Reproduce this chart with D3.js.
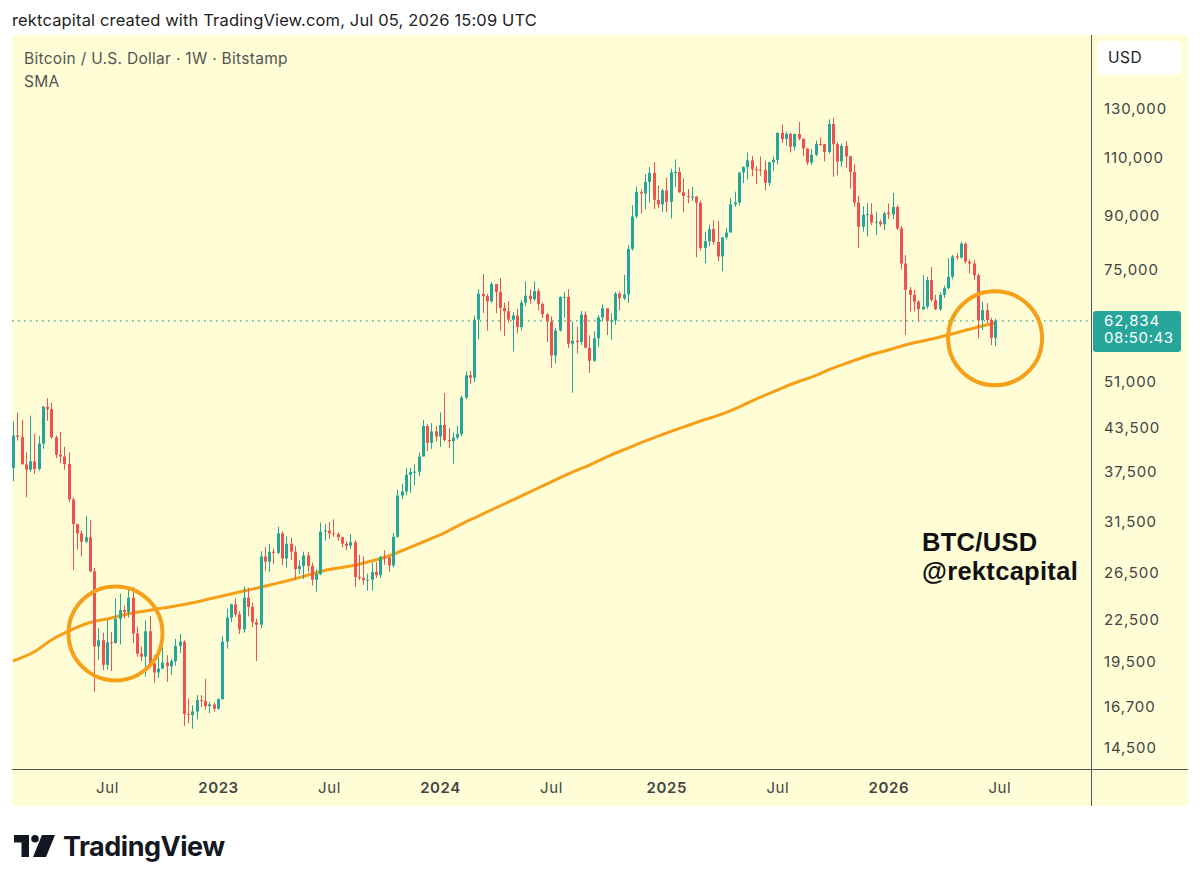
<!DOCTYPE html>
<html>
<head>
<meta charset="utf-8">
<script src="https://cdn.jsdelivr.net/npm/d3@7"></script>
<style>
  html, body { margin: 0; padding: 0; background: #fff; }
  svg { display: block; font-family: Inter, "Noto Sans", sans-serif; }
</style>
</head>
<body>
<div id="chart"></div>
<script>
// BTC/USD weekly candles (Bitstamp), [open, high, low, close]
// first bar is the week of 2022-01-31
const startWeek = '2022-01-31';

const candles2022 = [
  [37900, 44500, 36250, 42400], [42400, 45850, 41650, 42200], [42200, 44750, 39450, 38400],
  [38400, 40000, 34300, 37700], [37700, 45400, 37450, 38800], [38800, 42600, 37150, 37800],
  [37800, 42350, 37600, 41250], [41250, 46900, 40500, 46800], [46800, 48200, 44600, 46400],
  [46400, 47500, 41900, 42150], [42150, 42400, 39200, 39700], [39700, 42950, 38550, 39450],
  [39450, 40800, 37700, 38450], [38450, 40000, 33700, 34050], [34050, 34300, 26700, 31300],
  [31300, 31300, 28650, 30300], [30300, 30600, 28000, 29450], [29450, 32200, 29300, 29900],
  [29900, 31700, 26500, 26600], [26600, 26900, 17600, 20550], [20550, 21900, 19650, 21000],
  [21000, 21550, 18950, 19300], [19300, 22500, 19000, 20850], [20850, 21600, 18900, 20800],
  [20800, 24250, 20750, 22600], [22600, 24650, 20700, 23300], [23300, 23650, 22650, 23150],
  [23150, 25200, 22700, 24300], [24300, 25200, 20800, 21500], [21500, 22000, 19850, 20050],
  [20050, 20550, 19550, 19850], [19850, 22500, 18550, 21650], [21650, 22800, 19350, 19400],
  [19400, 19950, 18150, 18800], [18800, 20400, 18450, 19050], [19050, 20500, 19050, 19450],
  [19450, 19950, 18200, 19200], [19200, 19700, 18650, 19550], [19550, 21100, 19250, 20600],
  [20600, 21450, 20100, 20900], [20900, 21000, 15650, 16300], [16300, 17200, 15800, 16250],
  [16250, 16800, 15500, 16450], [16450, 17400, 16000, 17100], [17100, 17400, 16700, 17050],
  [17050, 18400, 16550, 16750], [16750, 17000, 16350, 16850], [16850, 16950, 16450, 16600]
];

const candles2023 = [
  [16600, 17200, 16550, 17150], [17150, 21300, 17150, 20900], [20900, 23400, 20400, 22700],
  [22700, 23800, 22350, 23750], [23750, 24250, 22750, 22950], [22950, 23200, 21450, 21800],
  [21800, 25250, 21550, 24300], [24300, 25150, 22800, 23550], [23550, 23900, 21950, 22350],
  [22350, 22600, 19550, 22150], [22150, 28500, 21900, 28000], [28000, 28900, 26650, 27500],
  [27500, 29200, 26550, 28450], [28450, 28750, 27250, 28350], [28350, 31000, 28200, 30300],
  [30300, 30500, 27150, 27800], [27800, 30000, 26950, 29250], [29250, 29850, 27650, 28450],
  [28450, 29000, 25850, 26800], [26800, 27650, 26350, 27100], [27100, 28450, 25900, 28100],
  [28100, 28450, 26550, 27100], [27100, 27400, 25350, 25850], [25850, 26800, 24800, 26350],
  [26350, 31450, 26250, 30500], [30500, 31300, 29550, 30600], [30600, 31500, 29750, 30300],
  [30300, 31800, 29950, 30250], [30250, 30400, 29550, 29900], [29900, 29950, 28900, 29250],
  [29250, 29500, 28600, 29050], [29050, 30250, 28750, 29400], [29400, 29650, 25200, 26100],
  [26100, 28150, 25800, 26000], [26000, 28000, 25400, 25800], [25800, 26400, 24900, 25850],
  [25850, 27400, 24900, 26550], [26550, 27450, 26000, 26250], [26250, 28050, 26000, 27950],
  [27950, 28600, 27200, 27900], [27900, 28000, 26550, 27150], [27150, 30350, 26950, 29950],
  [29950, 35200, 29850, 34500], [34500, 35950, 34100, 35000], [35000, 37950, 34550, 37050],
  [37050, 37950, 34800, 37400], [37400, 38400, 35700, 37450], [37450, 40000, 36850, 39450],
  [39450, 44700, 39450, 43800], [43800, 44050, 40200, 41350], [41350, 44250, 40500, 43000],
  [43000, 43800, 41550, 42250]
];

const candles2024 = [
  [42250, 45900, 40750, 43950], [43950, 49050, 41500, 41750], [41750, 43550, 40600, 41600],
  [41600, 42850, 38500, 42100], [42100, 43850, 41850, 42600], [42600, 48600, 42300, 48300],
  [48300, 52800, 48000, 52150], [52150, 52950, 50600, 51700], [51700, 64000, 50900, 63100],
  [63100, 70000, 59000, 68950], [68950, 73800, 64550, 68400], [68400, 68950, 60750, 67200],
  [67200, 71750, 66850, 71300], [71300, 71300, 64500, 69400], [69400, 72800, 60800, 65700],
  [65700, 66900, 59650, 64950], [64950, 67200, 62450, 63100], [63100, 64700, 56550, 64000],
  [64000, 65500, 60200, 61500], [61500, 67500, 60750, 66900], [66900, 71950, 66100, 68500],
  [68500, 70000, 66650, 67700], [67700, 71950, 67250, 69600], [69600, 70200, 65100, 66600],
  [66600, 66950, 63400, 64300], [64300, 64450, 58450, 62700], [62700, 63800, 53500, 55800],
  [55800, 61350, 54300, 60800], [60800, 68350, 60600, 68200], [68200, 69350, 63500, 68250],
  [68250, 70050, 57250, 58100], [58100, 62700, 49100, 58700], [58700, 61600, 56200, 58450],
  [58450, 65000, 57850, 64200], [64200, 64950, 57250, 57300], [57300, 59800, 52550, 54800],
  [54800, 60600, 54600, 59200], [59200, 64100, 57500, 63600], [63600, 66450, 62700, 65600],
  [65600, 65600, 59850, 62800], [62800, 64500, 58900, 62900], [62900, 69400, 62000, 69000],
  [69000, 69500, 65100, 67900], [67900, 73600, 67500, 68800], [68800, 81500, 66800, 80450],
  [80450, 93450, 79950, 89900], [89900, 99600, 89400, 97750], [97750, 98650, 90800, 97250],
  [97250, 104000, 92100, 101200], [101200, 106500, 94250, 104450], [104450, 108350, 92200, 95200],
  [95200, 99950, 92500, 93700], [93700, 98900, 91300, 98350]
];

const candles2025 = [
  [98350, 102700, 91250, 94550], [94550, 105900, 89250, 104550], [104550, 109350, 99500, 104750],
  [104750, 106450, 97500, 97700], [97700, 102500, 91200, 96450], [96450, 98800, 94100, 96150],
  [96150, 99500, 94850, 96250], [96250, 96500, 78150, 94250], [94250, 95050, 80000, 80700],
  [80700, 85300, 76600, 82600], [82600, 87450, 81200, 86100], [86100, 88800, 81600, 82400],
  [82400, 88500, 77100, 78400], [78400, 83600, 74500, 83700], [83700, 86500, 83100, 85100],
  [85100, 95700, 85100, 93700], [93700, 97900, 92900, 94300], [94300, 104300, 93400, 104600],
  [104600, 106800, 100800, 106500], [106500, 111900, 102100, 109000], [109000, 110700, 103200, 105700],
  [105700, 106800, 100400, 105600], [105600, 110400, 103400, 105500], [105500, 108900, 98300, 100900],
  [100900, 108500, 99800, 108300], [108300, 110500, 105200, 109200], [109200, 119900, 107400, 119800],
  [119800, 123200, 115700, 117300], [117300, 120200, 114700, 119400], [119400, 119800, 112000, 114200],
  [114200, 119500, 112700, 119300], [119300, 124400, 116800, 117400], [117400, 117600, 110600, 113500],
  [113500, 113700, 107300, 108200], [108200, 113300, 107300, 111100], [111100, 116700, 110600, 115300],
  [115300, 117900, 114700, 115200], [115200, 115400, 108600, 112200], [112200, 125500, 111600, 123500],
  [123500, 126200, 103000, 115200], [115200, 116000, 103500, 108600], [108600, 115500, 106600, 114500],
  [114500, 116400, 106300, 110500], [110500, 110800, 98900, 104700], [104700, 107500, 93000, 94300],
  [94300, 96600, 80600, 86800], [86800, 93100, 85300, 90400], [90400, 94100, 83900, 90600],
  [90600, 94100, 87300, 88000], [88000, 91400, 84400, 88300], [88300, 89000, 86800, 87500],
  [87500, 91400, 85800, 90900]
];

const candles2026 = [
  [91100, 94000, 89100, 90600], [90600, 97500, 89100, 92900], [92900, 93500, 85800, 86300],
  [86300, 87000, 75000, 76500], [76500, 78800, 59900, 69900], [69900, 70600, 64900, 68700],
  [68700, 69900, 64900, 67100], [67100, 67500, 62700, 65400], [65400, 73500, 65200, 66000],
  [66000, 73100, 65500, 72300], [72300, 75600, 67100, 67500], [67500, 68700, 65200, 65400],
  [65400, 69300, 65000, 68700], [68700, 70900, 68000, 70300], [70300, 77900, 70000, 73100],
  [73100, 78800, 72500, 78400], [78400, 79200, 77400, 78100], [78100, 82500, 77800, 81900],
  [81900, 82300, 76500, 77000], [77000, 77600, 73900, 76500], [76500, 77400, 72300, 73500],
  [73500, 74000, 59200, 63000], [63000, 67100, 60900, 65200], [65200, 66800, 62300, 63000],
  [63000, 63500, 57800, 59300], [59300, 63300, 57600, 62834]
];

// 200 week SMA
const smaDates = [
  '2022-01-31', '2022-03-07', '2022-04-04', '2022-05-02', '2022-06-06', '2022-07-04',
  '2022-08-01', '2022-09-05', '2022-10-03', '2022-11-07', '2022-12-05', '2023-01-02',
  '2023-02-06', '2023-03-06', '2023-04-03', '2023-05-01', '2023-06-05', '2023-07-03',
  '2023-08-07', '2023-09-04', '2023-10-02', '2023-11-06', '2023-12-04', '2024-01-01',
  '2024-02-05', '2024-03-04', '2024-04-01', '2024-05-06', '2024-06-03', '2024-07-01',
  '2024-08-05', '2024-09-02', '2024-10-07', '2024-11-04', '2024-12-02', '2025-01-06',
  '2025-02-03', '2025-03-03', '2025-04-07', '2025-05-05', '2025-06-02', '2025-07-07',
  '2025-08-04', '2025-09-01', '2025-10-06', '2025-11-03', '2025-12-01', '2026-01-05',
  '2026-02-02', '2026-03-02', '2026-04-06', '2026-05-04', '2026-06-01', '2026-06-29'
];
const smaValues = [
  19560, 20190, 21020, 21670, 22320, 22590,
  22930, 23220, 23450, 23740, 24030, 24360,
  24780, 25110, 25460, 25820, 26360, 26770,
  27090, 27470, 27900, 28720, 29420, 30140,
  31290, 32160, 33060, 34210, 35170, 36140,
  37400, 38310, 39650, 40610, 41600, 42760,
  43650, 44560, 45640, 46750, 48050, 49560,
  50770, 51820, 53440, 54560, 55710, 56860,
  57840, 58640, 59660, 60580, 61530, 62380
];

const priceTicks = [14500, 16700, 19500, 22500, 26500, 31500, 37500, 43500, 51000, 75000, 90000, 110000, 130000];
const timeTicks = ['2022-07-04', '2023-01-02', '2023-07-03', '2024-01-01', '2024-07-01', '2025-01-06', '2025-07-07', '2026-01-05', '2026-07-06'];

// highlighted zones: [week, price at centre]
const circleMarks = [['2022-07-18', 21500], ['2026-06-29', 59200]];

const lastPrice = 62834;
const countdown = '08:50:43';

const width = 1200, height = 885;
const panel = { left: 12, right: 1188, top: 35, bottom: 806 };
const plot = { left: 12, right: 1091, top: 35, bottom: 769 };
const barSpacing = 4.27;
const firstBarX = 13;

const upColor = '#26a69a';
const downColor = '#ef5350';
const smaColor = '#f6a01a';
const bg = '#fffdd6';
const axisFont = 'Inter, "Noto Sans", sans-serif';

const parseDay = d3.utcParse('%Y-%m-%d');
const start = parseDay(startWeek);
const weekMs = 7 * 864e5;

const candles = [].concat(candles2022, candles2023, candles2024, candles2025, candles2026)
  .map((d, i) => ({ date: d3.utcMonday.offset(start, i), o: d[0], h: d[1], l: d[2], c: d[3] }));

const x = d3.scaleUtc()
  .domain([
    new Date(+start + (plot.left - firstBarX) / barSpacing * weekMs),
    new Date(+start + (plot.right - firstBarX) / barSpacing * weekMs)
  ])
  .range([plot.left, plot.right]);

const y = d3.scaleLog()
  .domain([13500, 167600])
  .range([plot.bottom, plot.top]);

const svg = d3.select('#chart').append('svg')
  .attr('width', width)
  .attr('height', height);

// header
svg.append('text')
  .attr('x', 12).attr('y', 26)
  .attr('font-size', 16.5).attr('letter-spacing', 0.15).attr('fill', '#1e1e1e')
  .text('rektcapital created with TradingView.com, Jul 05, 2026 15:09 UTC');

// panel
svg.append('rect')
  .attr('x', panel.left).attr('y', panel.top)
  .attr('width', panel.right - panel.left).attr('height', panel.bottom - panel.top)
  .attr('fill', bg);

svg.append('defs').append('clipPath').attr('id', 'plotClip')
  .append('rect')
  .attr('x', plot.left).attr('y', plot.top)
  .attr('width', plot.right - plot.left).attr('height', plot.bottom - plot.top);

const g = svg.append('g').attr('clip-path', 'url(#plotClip)');

// last price dotted line
g.append('line')
  .attr('x1', plot.left).attr('x2', plot.right)
  .attr('y1', y(lastPrice)).attr('y2', y(lastPrice))
  .attr('stroke', upColor).attr('stroke-width', 1.3)
  .attr('stroke-dasharray', '1.5,4.5');

// SMA
const sma = smaDates.map((d, i) => ({ date: parseDay(d), v: smaValues[i] }));
g.append('path')
  .datum(sma)
  .attr('fill', 'none')
  .attr('stroke', smaColor)
  .attr('stroke-width', 3)
  .attr('d', d3.line().x(d => x(d.date)).y(d => y(d.v)).curve(d3.curveMonotoneX));

// candles
const bar = g.append('g').selectAll('g')
  .data(candles)
  .enter().append('g')
  .attr('fill', d => d.c >= d.o ? upColor : downColor)
  .attr('stroke', d => d.c >= d.o ? upColor : downColor);

bar.append('line')
  .attr('x1', d => Math.round(x(d.date)) + 0.5)
  .attr('x2', d => Math.round(x(d.date)) + 0.5)
  .attr('y1', d => y(d.h))
  .attr('y2', d => y(d.l))
  .attr('stroke-width', 1);

bar.append('rect')
  .attr('x', d => Math.round(x(d.date)) - 1)
  .attr('width', 3)
  .attr('y', d => y(Math.max(d.o, d.c)))
  .attr('height', d => Math.max(1, y(Math.min(d.o, d.c)) - y(Math.max(d.o, d.c))))
  .attr('stroke', 'none');

// circles
g.append('g').selectAll('circle')
  .data(circleMarks)
  .enter().append('circle')
  .attr('cx', d => x(parseDay(d[0])))
  .attr('cy', d => y(d[1]))
  .attr('r', 47)
  .attr('fill', 'none')
  .attr('stroke', smaColor)
  .attr('stroke-width', 4);

// separators
svg.append('line')
  .attr('x1', plot.right + 0.5).attr('x2', plot.right + 0.5)
  .attr('y1', panel.top).attr('y2', panel.bottom)
  .attr('stroke', '#555').attr('stroke-width', 1);
svg.append('line')
  .attr('x1', panel.left).attr('x2', panel.right)
  .attr('y1', plot.bottom + 0.5).attr('y2', plot.bottom + 0.5)
  .attr('stroke', '#555').attr('stroke-width', 1);

// price axis
const yAxis = d3.axisRight(y)
  .tickValues(priceTicks)
  .tickFormat(d3.format(','))
  .tickSize(0)
  .tickPadding(0);
const ya = svg.append('g')
  .attr('transform', `translate(${plot.right + 13},0)`)
  .call(yAxis);
ya.select('.domain').remove();
ya.selectAll('text')
  .attr('font-family', axisFont)
  .attr('font-size', 15)
  .attr('letter-spacing', 0.9)
  .attr('fill', '#444');

// time axis
const xAxis = d3.axisBottom(x)
  .tickValues(timeTicks.map(parseDay))
  .tickFormat(d => d.getUTCMonth() === 0 ? d3.utcFormat('%Y')(d) : d3.utcFormat('%b')(d))
  .tickSize(0)
  .tickPadding(0);
const xa = svg.append('g')
  .attr('transform', `translate(0,${plot.bottom + 13})`)
  .call(xAxis);
xa.select('.domain').remove();
xa.selectAll('text')
  .attr('font-family', axisFont)
  .attr('font-size', 15)
  .attr('letter-spacing', 0.6)
  .attr('fill', '#444')
  .attr('font-weight', d => d.getUTCMonth() === 0 ? 600 : 400);

// currency box
svg.append('rect')
  .attr('x', 1097).attr('y', 41).attr('width', 84).attr('height', 34).attr('rx', 5)
  .attr('fill', '#fff');
svg.append('text')
  .attr('x', 1108).attr('y', 63)
  .attr('font-size', 15.5).attr('letter-spacing', 0.5).attr('fill', '#1e1e1e')
  .text('USD');

// last price label
const ly = y(lastPrice);
svg.append('rect')
  .attr('x', plot.right + 2).attr('y', ly - 10).attr('width', 88).attr('height', 41).attr('rx', 3)
  .attr('fill', upColor);
svg.append('text')
  .attr('x', 1104).attr('y', ly + 5)
  .attr('font-size', 15).attr('letter-spacing', 0.9).attr('fill', '#fff')
  .text(d3.format(',')(lastPrice));
svg.append('text')
  .attr('x', 1104).attr('y', ly + 22)
  .attr('font-size', 15).attr('letter-spacing', 0.6).attr('fill', '#fff')
  .text(countdown);

// legend
svg.append('text')
  .attr('x', 24).attr('y', 64)
  .attr('font-size', 15.5).attr('letter-spacing', 0.3).attr('fill', '#555')
  .text('Bitcoin / U.S. Dollar · 1W · Bitstamp');
svg.append('text')
  .attr('x', 24).attr('y', 87)
  .attr('font-size', 15.5).attr('letter-spacing', 0.3).attr('fill', '#555')
  .text('SMA');

// watermark text
const tagStyle = sel => sel
  .attr('font-family', '"Liberation Sans", Arial, sans-serif')
  .attr('font-weight', 700)
  .attr('font-size', 25.5)
  .attr('letter-spacing', 0.3)
  .attr('fill', '#111');
svg.append('text').call(tagStyle).attr('x', 922).attr('y', 551).text('BTC/USD');
svg.append('text').call(tagStyle).attr('x', 922).attr('y', 580).text('@rektcapital');

// TradingView logo
const logo = svg.append('g').attr('transform', 'translate(14,835)').attr('fill', '#131722');
logo.append('path').attr('d', 'M0 0 H15 V22 H7.5 V7.5 H0 Z');
logo.append('circle').attr('cx', 21).attr('cy', 3.8).attr('r', 3.8);
logo.append('path').attr('d', 'M28 0 H41 L32 22 H19 Z');
svg.append('text')
  .attr('x', 63).attr('y', 856)
  .attr('font-size', 27).attr('font-weight', 700)
  .attr('letter-spacing', -0.5)
  .attr('fill', '#131722')
  .text('TradingView');
</script>
</body>
</html>
